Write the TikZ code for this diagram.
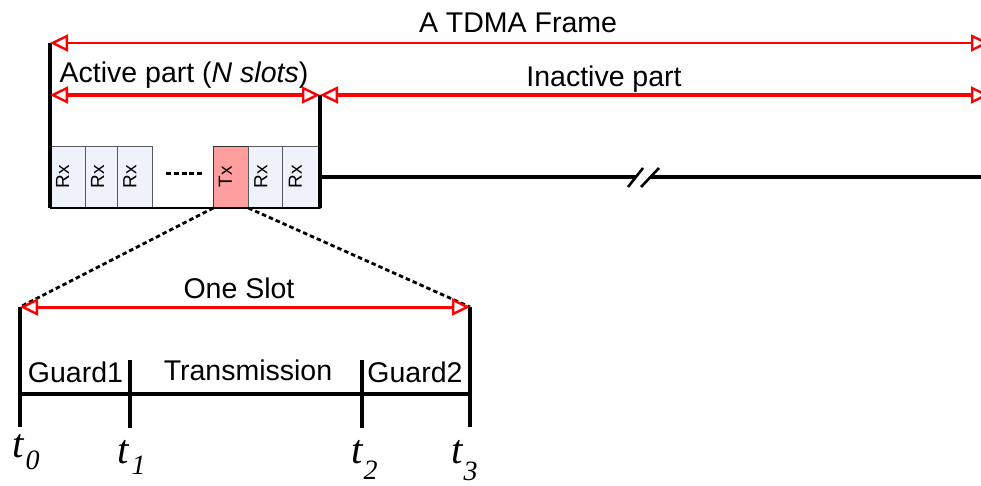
\documentclass[tikz,border=0pt]{standalone}
\usepackage{fontspec}
\setmainfont{Liberation Sans}
\newfontfamily\timesfont{Liberation Serif}
\usetikzlibrary{arrows.meta}
\newcommand{\tsub}[2]{\raisebox{-#1pt}{\fontsize{28}{28}\selectfont #2}}
\begin{document}
\begin{tikzpicture}[x=1pt, y=-1pt,
  lbl/.style={font=\fontsize{28.5}{30}\selectfont, inner sep=0pt, anchor=base},
  span/.style={draw=red, {Triangle[open,length=18pt,width=17pt,line width'=2.4pt]}-{Triangle[open,length=18pt,width=17pt,line width'=2.4pt]}},
  bar/.style={draw=black, line width=3.5pt},
  tick/.style={draw=black, line width=3.2pt},
  slotbox/.style={draw=black!65, line width=1pt, fill=rxfill, minimum height=62pt, inner sep=0pt, outer sep=0pt},
  slotlbl/.style={rotate=90, font=\fontsize{19}{19}\selectfont, inner sep=0pt},
  tlbl/.style={font=\timesfont\itshape\fontsize{41}{41}\selectfont, inner sep=0pt, anchor=base west},
  zoomline/.style={draw=black, line width=2.8pt, dash pattern=on 4.5pt off 3pt}
]
\definecolor{rxfill}{HTML}{EEF2FA}
\definecolor{txfill}{HTML}{FF9E9E}
\useasboundingbox (0,0) rectangle (981,485);
\clip (0,0) rectangle (981,485);

% key points of the frame
\coordinate (fl) at (50,43);
\coordinate (fr) at (989,43);
\coordinate (al) at (50,95);
\coordinate (am) at (320,95);
\coordinate (ar) at (989,95);
\coordinate (lb) at (50,208);
\coordinate (rb) at (320,208);

% slots of the active part
\node[slotbox, minimum width=35pt]   (b1) at (67.5,177) {};
\node[slotbox, minimum width=32.3pt] (b2) at (101.2,177) {};
\node[slotbox, minimum width=35.4pt] (b3) at (135,177) {};
\node[slotbox, minimum width=35pt, fill=txfill, draw=black!80] (tx) at (230.8,177) {};
\node[slotbox, minimum width=34.4pt] (b5) at (265.5,177) {};
\node[slotbox, minimum width=37.3pt] (b6) at (301.4,177) {};
\node[slotlbl] at ([xshift=12.5pt]b1.west) {Rx};
\node[slotlbl] at ([xshift=12.5pt]b2.west) {Rx};
\node[slotlbl] at ([xshift=12.5pt]b3.west) {Rx};
\node[slotlbl] at ([xshift=12pt]tx.west) {Tx};
\node[slotlbl] at ([xshift=12.5pt]b5.west) {Rx};
\node[slotlbl] at ([xshift=12.5pt]b6.west) {Rx};
\draw[line width=1.6pt] (lb) -- (rb);

% dashes between the slots
\coordinate (d1) at (166,173);
\coordinate (d2) at (202,173);
\draw[line width=3pt, dash pattern=on 5pt off 2.8pt] (d1) -- (d2);

% frame boundaries
\draw[bar] (fl) -- (lb);
\draw[bar] (am) -- (rb);

% span arrows
\draw[span, line width=2.5pt] (fl) -- (fr);
\draw[span, line width=4pt] (al) -- (am);
\draw[span, line width=4pt] (am) -- (ar);

\node[lbl] (frame) at (518,32) {A TDMA Frame};
\node[lbl] (active) at (184,82) {Active part (\textit{N slots})};
\node[lbl] (inactive) at (604,86) {Inactive part};

% time line of the inactive part with a break
\coordinate (i0) at (320,177);
\coordinate (i1) at (636,177);
\coordinate (i2) at (650,177);
\coordinate (i3) at (989,177);
\draw[bar] (i0) -- (i1);
\draw[bar] (i2) -- (i3);
\coordinate (k1a) at (628,187);
\coordinate (k1b) at (643,168);
\coordinate (k2a) at (641,187);
\coordinate (k2b) at (659,168);
\draw[line width=2.6pt] (k1a) -- (k1b);
\draw[line width=2.6pt] (k2a) -- (k2b);

% one slot in detail
\coordinate (s0) at (20,307);
\coordinate (s3) at (470,307);
\coordinate (e0) at (20,427);
\coordinate (e3) at (470,427);
\coordinate (s1) at (130,360);
\coordinate (e1) at (130,428);
\coordinate (s2) at (362,360);
\coordinate (e2) at (362,428);
\coordinate (h0) at (20,394);
\coordinate (h3) at (470,394);

\draw[zoomline] (tx.south west) -- (s0);
\draw[zoomline] (tx.south east) -- (s3);

\draw[tick] (s0) -- (e0);
\draw[tick] (s3) -- (e3);
\draw[tick] (s1) -- (e1);
\draw[tick] (s2) -- (e2);
\draw[tick] (h0) -- (h3);

\draw[span, line width=3pt] (s0) -- (s3);

\node[lbl] (oneslot) at (239,298) {One Slot};
\node[lbl] (g1) at (75.5,382) {Guard1};
\node[lbl] (trans) at (248,380) {Transmission};
\node[lbl] (g2) at (415,382) {Guard2};

\node[tlbl] (t0) at (12,457) {t\kern2pt\tsub{12}{0}};
\node[tlbl] (t1) at (117,463) {t\kern3pt\tsub{11}{1}};
\node[tlbl] (t2) at (351,463) {t\kern1pt\tsub{16}{2}};
\node[tlbl] (t3) at (451,463) {t\kern1pt\tsub{17}{3}};
\end{tikzpicture}
\end{document}
